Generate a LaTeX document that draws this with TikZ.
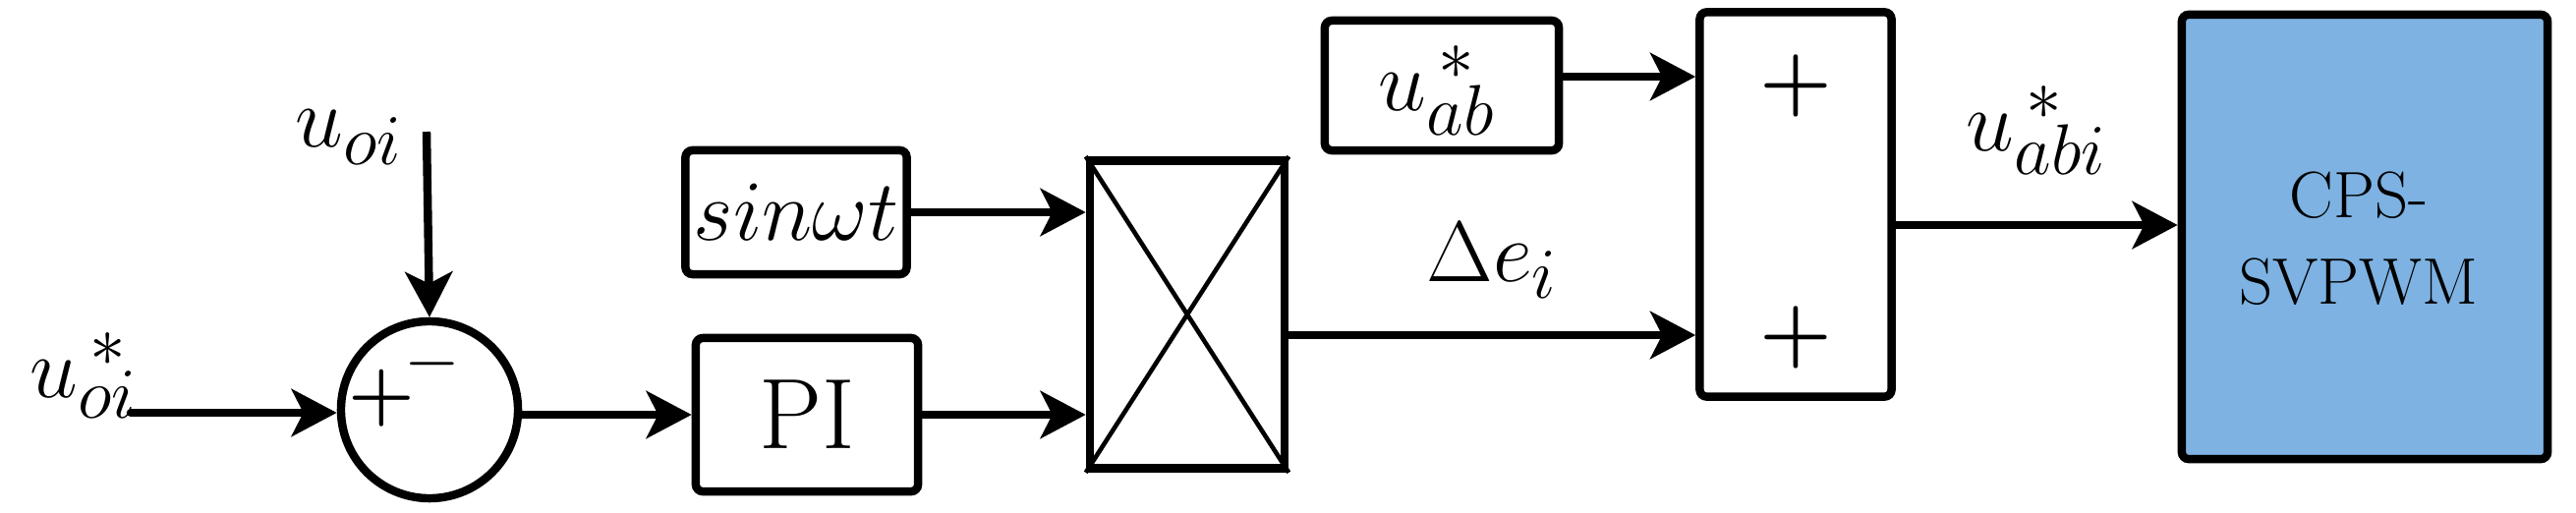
\documentclass[tikz,border=0pt]{standalone}
\usetikzlibrary{arrows.meta}
\begin{document}
\begin{tikzpicture}[x=0.01cm,y=-0.01cm,
  blk/.style={draw,line width=2.4pt,rounded corners=2pt,inner sep=0pt},
  sig/.style={line width=2.4pt,-{Stealth[length=4.6mm,width=4.8mm,inset=1.2mm]}},
  lbl/.style={font=\fontsize{30}{34}\selectfont}]
\useasboundingbox (0,0) rectangle (2621,521);
\node[blk,circle,minimum size=180\pgflinewidth*0+1.8cm] (sum1) at (437,417) {};
\node[font=\fontsize{22}{24}\selectfont\bfseries] at (388,405) {+};
\node[font=\fontsize{22}{24}\selectfont\bfseries] at (440,370) {$-$};
\node[blk,minimum width=2.26cm,minimum height=1.56cm] (pi) at (821,422) {};
\node[font=\fontsize{29}{32}\selectfont] at (821,422) {PI};
\node[blk,minimum width=2.25cm,minimum height=1.26cm] (sin) at (810,216) {};
\node[lbl] at (810,216) {$sin\omega t$};
\node[blk,rounded corners=0pt,minimum width=1.98cm,minimum height=3.13cm] (mul) at (1208,320) {};
\draw[line width=1.3pt] (mul.north west) -- (mul.south east) (mul.north east) -- (mul.south west);
\node[blk,minimum width=2.38cm,minimum height=1.32cm] (uab) at (1467,87) {};
\node[lbl] at (1462,92) {$u_{ab}^{\,*}$};
\node[blk,minimum width=1.95cm,minimum height=3.91cm] (add) at (1827,208) {};
\node[font=\fontsize{24}{26}\selectfont\bfseries] at (1827,87) {+};
\node[font=\fontsize{24}{26}\selectfont\bfseries] at (1827,343) {+};
\node[blk,fill={rgb,255:red,125;green,178;blue,226},minimum width=3.72cm,minimum height=4.52cm] (cps) at (2406,241) {};
\node[font=\fontsize{19}{25}\selectfont,align=center] at (2400,243) {CPS-\\SVPWM};
\coordinate (in1) at (133,420);
\coordinate (in2) at (434,134);
\node[lbl] at (85,382) {$u_{oi}^{\,*}$};
\node[lbl] at (355,140) {$u_{oi}$};
\draw[sig,line cap=round] (in1) -- (sum1.west |- in1);
\draw[sig] (in2) -- (sum1.north);
\draw[sig] (sum1.east |- pi) -- (pi.west);
\draw[sig] (pi.east) -- (mul.west |- pi.east);
\draw[sig] (sin.east) -- (mul.west |- sin.east);
\draw[sig] (uab.east |- 0,78) -- (add.west |- 0,78);
\draw[sig] (mul.east |- 0,341) -- node[above=6pt,lbl]{$\Delta e_i$} (add.west |- 0,341);
\draw[sig] (add.east |- 0,229) -- node[above=10pt,lbl]{$u_{abi}^{\,*}$} (cps.west |- 0,229);
\end{tikzpicture}
\end{document}
